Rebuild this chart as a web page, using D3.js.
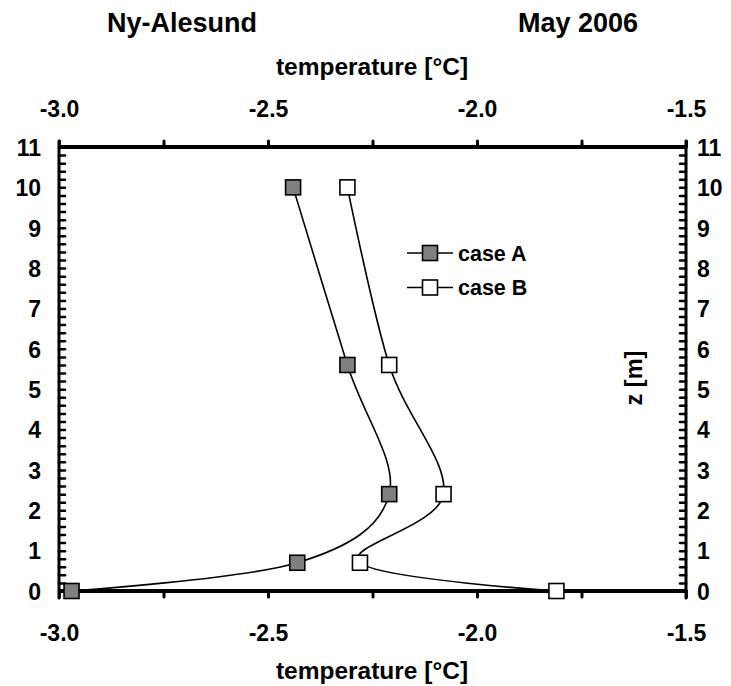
<!DOCTYPE html>
<html>
<head>
<meta charset="utf-8">
<script src="https://cdn.jsdelivr.net/npm/d3@7/dist/d3.min.js"></script>
<style>
  html, body { margin: 0; padding: 0; background: #fff; }
  svg { display: block; }
  text { font-family: "Liberation Sans", Arial, sans-serif; font-weight: bold; fill: #000; }
</style>
</head>
<body>
<svg id="chart" width="731" height="686"></svg>
<script>
// ---- data ----
const depths = [10, 5.6, 2.4, 0.7, 0];               // z [m]
const caseA  = [-2.44, -2.31, -2.21, -2.43, -2.97];  // temperature [°C]
const caseB  = [-2.31, -2.21, -2.08, -2.28, -1.81];  // temperature [°C]
const seriesNames = ["case A", "case B"];
const xTickLabels = [-3.0, -2.5, -2.0, -1.5];
const yTickLabels = [0, 1, 2, 3, 4, 5, 6, 7, 8, 9, 10, 11];
const titleLeft = "Ny-Alesund";
const titleRight = "May 2006";

// ---- layout ----
const svg = d3.select("#chart");
const L = 59, R = 686, T = 147, B = 591;
const x = d3.scaleLinear().domain([-3, -1.5]).range([L, R]);
const y = d3.scaleLinear().domain([0, 11]).range([B, T]);

const xMinor = d3.range(0, 7).map(i => -3 + i * 0.25);
const yMinor = d3.range(0, 56).map(i => +(i * 0.2).toFixed(1));
const fmtX = d => d.toFixed(1);   // plain hyphen-minus like the original
const TICK_FS = "23px";

// titles
svg.append("text").attr("x", 182).attr("y", 32).attr("text-anchor", "middle")
  .style("font-size", "27px").text(titleLeft);
svg.append("text").attr("x", 578).attr("y", 32).attr("text-anchor", "middle")
  .style("font-size", "27px").text(titleRight);

// axis titles
svg.append("text").attr("x", 372).attr("y", 75).attr("text-anchor", "middle")
  .style("font-size", "24.5px").text("temperature [°C]");
svg.append("text").attr("x", 372).attr("y", 679).attr("text-anchor", "middle")
  .style("font-size", "24.5px").text("temperature [°C]");
svg.append("text").attr("transform", "translate(642,378) rotate(-90)")
  .attr("text-anchor", "middle").style("font-size", "23.5px").text("z [m]");

function styleAxis(g, width) {
  g.select(".domain").remove();
  g.selectAll(".tick line").attr("stroke", "#000").attr("stroke-width", width).attr("stroke-linecap", "round");
}

// top axis
const gTop = svg.append("g").attr("transform", `translate(0,${T})`)
  .call(d3.axisTop(x).tickValues(xMinor).tickSizeInner(6).tickSizeOuter(0).tickFormat(() => ""));
styleAxis(gTop, 3);
svg.append("g").attr("transform", `translate(0,${T})`)
  .call(d3.axisTop(x).tickValues(xTickLabels).tickSize(0).tickFormat(fmtX))
  .call(g => { g.select(".domain").remove();
    g.selectAll("text").attr("y", -30).attr("dy", 0).style("font-size", TICK_FS).style("font-family", null); });

// bottom axis
const gBot = svg.append("g").attr("transform", `translate(0,${B})`)
  .call(d3.axisBottom(x).tickValues(xMinor).tickSizeInner(6).tickSizeOuter(0).tickFormat(() => ""));
styleAxis(gBot, 3);
svg.append("g").attr("transform", `translate(0,${B})`)
  .call(d3.axisBottom(x).tickValues(xTickLabels).tickSize(0).tickFormat(fmtX))
  .call(g => { g.select(".domain").remove();
    g.selectAll("text").attr("y", 50).attr("dy", 0).style("font-size", TICK_FS).style("font-family", null); });

// left axis
const gLeft = svg.append("g").attr("transform", `translate(${L},0)`)
  .call(d3.axisLeft(y).tickValues(yMinor).tickSizeInner(-6).tickSizeOuter(0).tickFormat(() => ""));
styleAxis(gLeft, 2.5);
svg.append("g").attr("transform", `translate(${L},0)`)
  .call(d3.axisLeft(y).tickValues(yTickLabels).tickSize(0).tickFormat(d3.format("d")))
  .call(g => { g.select(".domain").remove();
    g.selectAll("text").attr("x", -18).attr("dy", "0.36em").style("font-size", TICK_FS).style("font-family", null); });

// right axis
const gRight = svg.append("g").attr("transform", `translate(${R},0)`)
  .call(d3.axisRight(y).tickValues(yMinor).tickSizeInner(-6).tickSizeOuter(0).tickFormat(() => ""));
styleAxis(gRight, 2.5);
svg.append("g").attr("transform", `translate(${R},0)`)
  .call(d3.axisRight(y).tickValues(yTickLabels).tickSize(0).tickFormat(d3.format("d")))
  .call(g => { g.select(".domain").remove();
    g.selectAll("text").attr("x", 11).attr("dy", "0.36em").style("font-size", TICK_FS).style("font-family", null); });

// frame lines
svg.append("line").attr("x1", L).attr("x2", R).attr("y1", T).attr("y2", T)
  .attr("stroke", "#000").attr("stroke-width", 4);
svg.append("line").attr("x1", L).attr("x2", R).attr("y1", B).attr("y2", B)
  .attr("stroke", "#000").attr("stroke-width", 4);
svg.append("line").attr("x1", L).attr("x2", L).attr("y1", T - 6).attr("y2", B + 7)
  .attr("stroke", "#000").attr("stroke-width", 3).attr("stroke-linecap", "round");
svg.append("line").attr("x1", R).attr("x2", R).attr("y1", T - 6).attr("y2", B + 7)
  .attr("stroke", "#000").attr("stroke-width", 3).attr("stroke-linecap", "round");

// series
const fills = ["#808080", "#ffffff"];
const series = [caseA, caseB];
const line = d3.line().x(d => x(d[0])).y(d => y(d[1])).curve(d3.curveCardinal.tension(0));
const ms = 15;
series.forEach((vals, i) => {
  const pts = vals.map((v, j) => [v, depths[j]]);
  svg.append("path").attr("d", line(pts)).attr("fill", "none")
    .attr("stroke", "#000").attr("stroke-width", 1.6);
  svg.selectAll(null).data(pts).enter().append("rect")
    .attr("x", d => x(d[0]) - ms / 2).attr("y", d => y(d[1]) - ms / 2)
    .attr("width", ms).attr("height", ms)
    .attr("fill", fills[i]).attr("stroke", "#000").attr("stroke-width", 1.6);
});

// legend
const legY = [253, 287.5];
seriesNames.forEach((name, i) => {
  const g = svg.append("g");
  g.append("line").attr("x1", 407).attr("x2", 453).attr("y1", legY[i]).attr("y2", legY[i])
    .attr("stroke", "#000").attr("stroke-width", 1.6);
  g.append("rect").attr("x", 430 - ms / 2).attr("y", legY[i] - ms / 2).attr("width", ms).attr("height", ms)
    .attr("fill", fills[i]).attr("stroke", "#000").attr("stroke-width", 1.6);
  g.append("text").attr("x", 458).attr("y", legY[i]).attr("dy", "0.36em")
    .style("font-size", "21.5px").text(name);
});
</script>
</body>
</html>
